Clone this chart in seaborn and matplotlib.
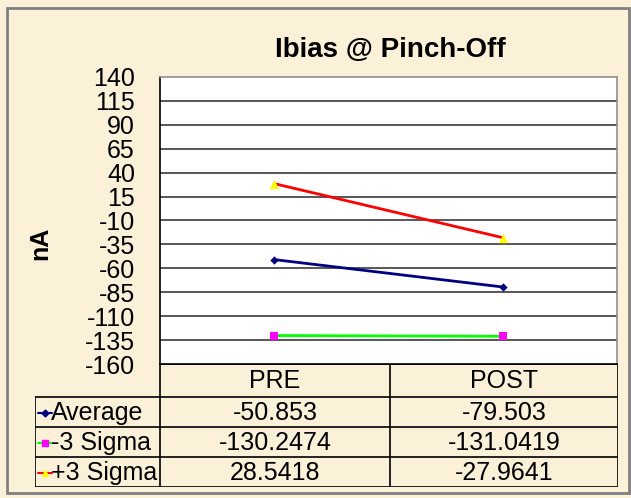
import pandas as pd
import matplotlib.pyplot as plt
import matplotlib.patches as patches
from matplotlib.lines import Line2D
import seaborn as sns

# === Data ===
phases = ["PRE", "POST"]
series = ["Average", "-3 Sigma", "+3 Sigma"]
average = [-50.853, -79.503]
minus3 = [-130.2474, -131.0419]
plus3 = [28.5418, -27.9641]
y_ticks = list(range(-160, 141, 25))

line_colors = {"Average": "#000080", "-3 Sigma": "#00ff00", "+3 Sigma": "#ff0000"}
marker_colors = {"Average": "#000080", "-3 Sigma": "#ff00ff", "+3 Sigma": "#ffff00"}
marker_shapes = {"Average": "D", "-3 Sigma": "s", "+3 Sigma": "^"}
marker_sizes = {"Average": 18, "-3 Sigma": 40, "+3 Sigma": 45}

values = {"Average": average, "-3 Sigma": minus3, "+3 Sigma": plus3}
df = pd.DataFrame([
    {"phase": p, "series": s, "value": v}
    for s in series for p, v in zip(phases, values[s])
])

# === Style ===
sns.set_style("white")
plt.rcParams["font.family"] = ["Liberation Sans", "DejaVu Sans"]
plt.rcParams["text.color"] = "black"
plt.rcParams["ytick.color"] = "black"

W, H = 631, 498
fig = plt.figure(figsize=(W / 100, H / 100), dpi=100)
fig.patch.set_facecolor("#fbf0d8")

def fx(px):
    return px / W

def fy(py):
    return 1 - py / H

# plot area in pixels
L, R, T, B = 160, 617, 77, 364
ax = fig.add_axes([fx(L), fy(B), fx(R - L), (B - T) / H])
ax.set_facecolor("white")

sns.lineplot(data=df, x="phase", y="value", hue="series", palette=line_colors,
             sort=False, legend=False, linewidth=2, ax=ax)
for s in series:
    sub = df[df["series"] == s]
    sns.scatterplot(data=sub, x="phase", y="value", color=marker_colors[s],
                    marker=marker_shapes[s], s=marker_sizes[s], linewidth=0,
                    legend=False, zorder=5, ax=ax)

ax.set_xlim(-0.5, 1.5)
ax.set_ylim(-160, 140)
ax.set_yticks(y_ticks)
ax.set_yticklabels([str(t) for t in y_ticks], fontsize=18, color="black")
ax.tick_params(axis="y", direction="out", length=6, width=1, pad=12, colors="black")
ax.tick_params(axis="x", length=0, labelbottom=False)
ax.set_xlabel("")
ax.set_ylabel("")
for t in y_ticks[1:-1]:
    ax.axhline(t, color="#3a3a3a", lw=1.2, zorder=1)
ax.spines["left"].set_color("black")
ax.spines["bottom"].set_color("black")
ax.spines["top"].set_color("#909090")
ax.spines["right"].set_color("#909090")
for sp in ax.spines.values():
    sp.set_linewidth(1.2)

# title and y label
fig.text(fx(390), fy(57), "Ibias @ Pinch-Off", fontsize=20, fontweight="bold",
         ha="center", va="baseline", color="black")
fig.text(fx(40), fy(243), "nA", fontsize=18, fontweight="bold", rotation=90,
         ha="center", va="center", color="black")

# === Data table ===
TL, TR, TT, TB = 35, 618, 364, 487
row_y = [364, 397, 427, 457, 487]
col_x = [35, 160, 390, 618]
tax = fig.add_axes([fx(TL), fy(TB), fx(TR - TL), (TB - TT) / H])
tax.set_xlim(TL, TR)
tax.set_ylim(TB, TT)
tax.axis("off")
tax.patch.set_alpha(0)

lc = "black"
tax.plot([col_x[1], col_x[3]], [row_y[0], row_y[0]], color=lc, lw=1.2)
for y in row_y[1:]:
    tax.plot([col_x[0], col_x[3]], [y, y], color=lc, lw=1.2)
tax.plot([col_x[0], col_x[0]], [row_y[1], row_y[4]], color=lc, lw=1.2)
for x in col_x[1:]:
    tax.plot([x, x], [row_y[0], row_y[4]], color=lc, lw=1.2)

fs = 18
for j, p in enumerate(phases):
    cx = (col_x[j + 1] + col_x[j + 2]) / 2
    tax.text(cx, (row_y[0] + row_y[1]) / 2 + 1, p, fontsize=fs, ha="center", va="center")

for i, s in enumerate(series):
    cy = (row_y[i + 1] + row_y[i + 2]) / 2 + 1
    # legend key
    tax.add_line(Line2D([38, 52], [cy, cy], color=line_colors[s], lw=1.5))
    tax.add_line(Line2D([45], [cy], marker=marker_shapes[s], markersize=5 if s != "Average" else 3.5,
                        markerfacecolor=marker_colors[s], markeredgecolor=marker_colors[s]))
    tax.text(51, cy, s, fontsize=fs, ha="left", va="center")
    for j in range(len(phases)):
        cx = (col_x[j + 1] + col_x[j + 2]) / 2
        tax.text(cx, cy, str(values[s][j]), fontsize=fs, ha="center", va="center")

# outer border
fig.patches.append(patches.Rectangle((fx(7), fy(493)), fx(629 - 7), (493 - 8) / H,
                                     transform=fig.transFigure, fill=False,
                                     edgecolor="#808080", lw=2))

plt.savefig("out.png", dpi=100, facecolor=fig.get_facecolor())
plt.close()
